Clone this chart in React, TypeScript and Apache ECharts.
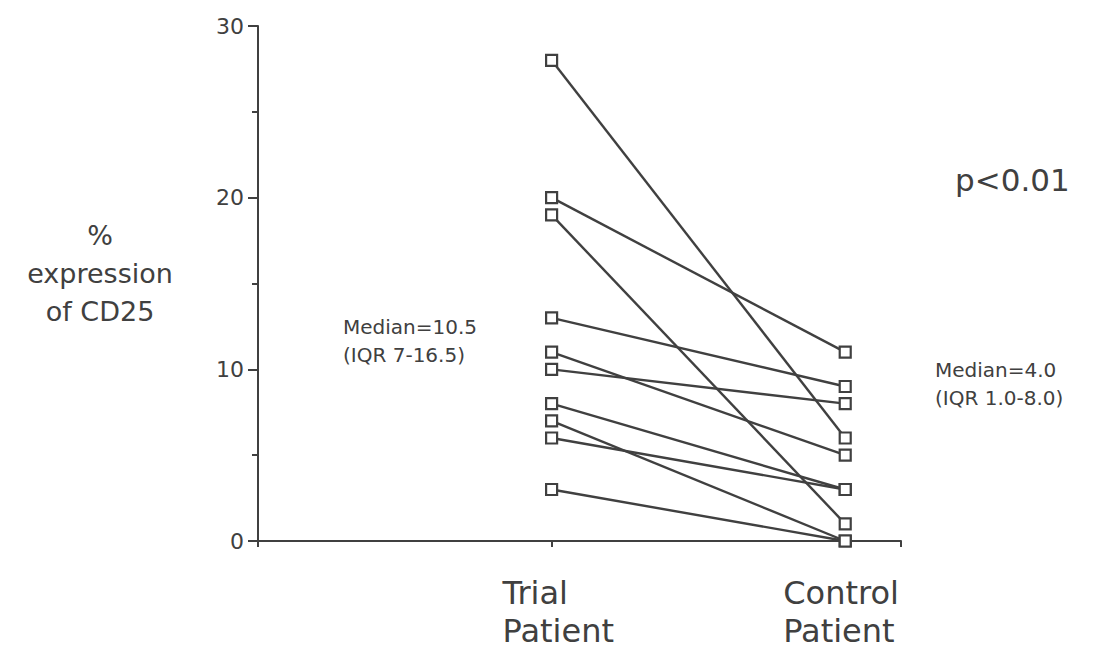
import React, { useEffect, useRef } from "react";
import * as echarts from "echarts";

const trialValues = [28, 20, 19, 13, 11, 10, 8, 7, 6, 3];
const controlValues = [6, 11, 1, 9, 5, 8, 3, 0, 3, 0];
const groupLabels = ["Trial", "Patient", "Control", "Patient"];
const yTicks = [0, 10, 20, 30];
const trialNote = ["Median=10.5", "(IQR 7-16.5)"];
const controlNote = ["Median=4.0", "(IQR 1.0-8.0)"];
const pNote = "p<0.01";
const yTitle = ["%", "expression", "of CD25"];

const INK = "#404040";
const FONT = "'DejaVu Sans', Verdana, sans-serif";

export default function App() {
  const ref = useRef<HTMLDivElement>(null);
  useEffect(() => {
    document.body.style.margin = "0";
    const chart = echarts.init(ref.current!, null, { renderer: "svg" });
    const series = trialValues.map((t, i) => ({
      type: "line",
      data: [
        [1, t],
        [2, controlValues[i]],
      ],
      symbol: "rect",
      symbolSize: 11,
      showSymbol: true,
      lineStyle: { color: INK, width: 2.4 },
      itemStyle: { color: "#ffffff", borderColor: INK, borderWidth: 2.2 },
      z: 3,
    }));
    const rich = {
      t: { fontFamily: FONT, fontSize: 32, lineHeight: 38, color: INK, width: 124, align: "left", padding: [0, 0, 0, 26] },
      c: { fontFamily: FONT, fontSize: 32, lineHeight: 38, color: INK, width: 124, align: "left" },
    };
    chart.setOption({
      animation: false,
      backgroundColor: "#ffffff",
      grid: { left: 258, top: 26, width: 643, height: 515, outerBoundsMode: "none", containLabel: false },
      xAxis: {
        type: "value",
        min: 0,
        max: 2.19,
        interval: 1,
        splitLine: { show: false },
        axisLine: { show: true, lineStyle: { color: INK, width: 2 } },
        axisTick: { show: true, length: 6, lineStyle: { color: INK, width: 2 } },
        axisLabel: {
          color: INK,
          fontFamily: FONT,
          fontSize: 32,
          lineHeight: 38,
          margin: 33,
          formatter: (v: number) =>
            v === 1
              ? `{t|${groupLabels[0]}}\n{t|${groupLabels[1]}}`
              : v === 2
              ? `{c|${groupLabels[2]}}\n{c|${groupLabels[3]}}`
              : "",
          rich,
        },
      },
      yAxis: {
        type: "value",
        min: 0,
        max: 30,
        interval: 10,
        splitLine: { show: false },
        axisLine: { show: true, lineStyle: { color: INK, width: 2 } },
        axisTick: { show: true, length: 10, lineStyle: { color: INK, width: 2 } },
        minorTick: { show: true, splitNumber: 2, length: 6, lineStyle: { color: INK, width: 2 } },
        axisLabel: {
          color: INK,
          fontFamily: FONT,
          fontSize: 22,
          margin: 14,
          formatter: (v: number) => (yTicks.includes(v) ? String(v) : ""),
        },
      },
      series,
      graphic: [
        ...yTitle.map((s, i) => ({
          type: "text",
          x: 100,
          y: 235 + i * 38,
          style: {
            text: s,
            fill: INK,
            font: `27px ${FONT}`,
            textAlign: "center",
            textVerticalAlign: "middle",
          },
        })),
        ...trialNote.map((s, i) => ({
          type: "text",
          x: 343,
          y: 327 + i * 28,
          style: { text: s, fill: INK, font: `20px ${FONT}`, textAlign: "left", textVerticalAlign: "middle" },
        })),
        ...controlNote.map((s, i) => ({
          type: "text",
          x: 935,
          y: 370 + i * 28,
          style: { text: s, fill: INK, font: `20px ${FONT}`, textAlign: "left", textVerticalAlign: "middle" },
        })),
        {
          type: "text",
          x: 955,
          y: 180,
          style: { text: pNote, fill: INK, font: `31px ${FONT}`, textAlign: "left", textVerticalAlign: "middle" },
        },
      ],
    });
    return () => chart.dispose();
  }, []);
  return <div ref={ref} style={{ width: 1100, height: 650 }} />;
}
